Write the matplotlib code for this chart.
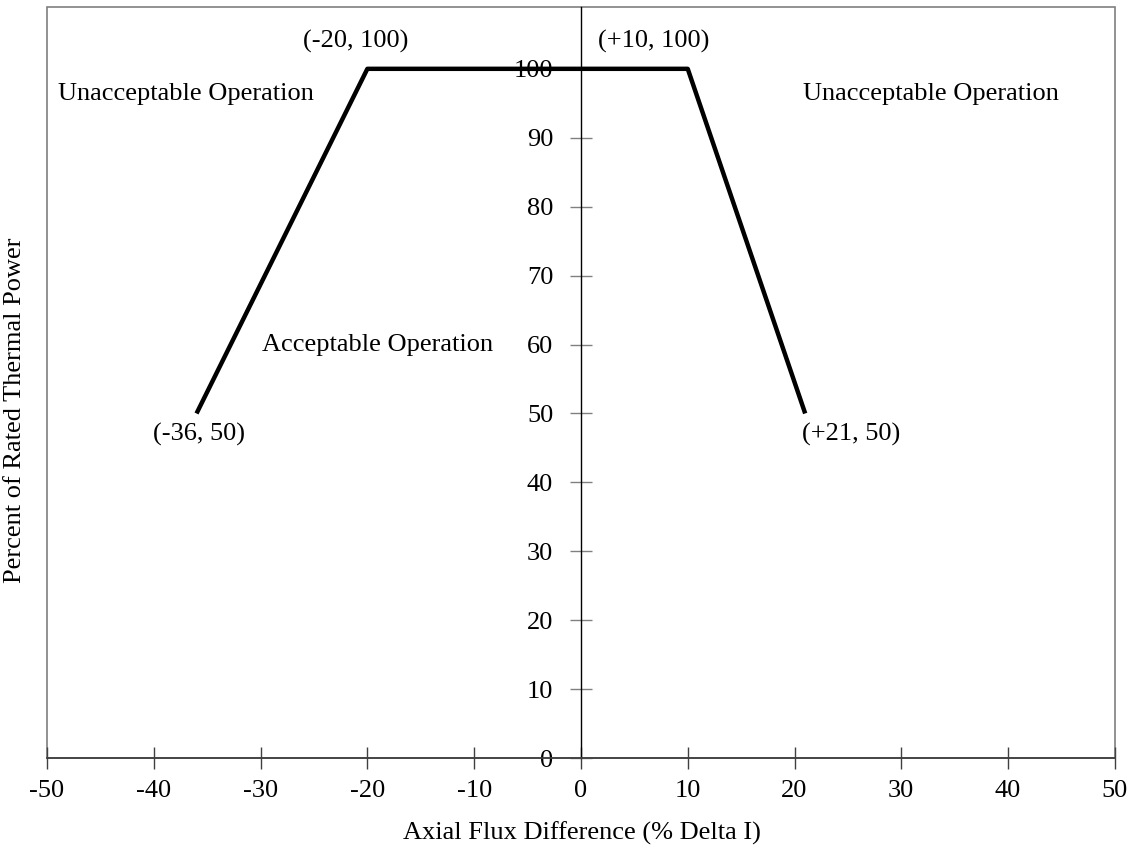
import matplotlib.pyplot as plt
from matplotlib.patches import Rectangle

plt.rcParams['font.family'] = ['Liberation Serif', 'DejaVu Serif']
plt.rcParams['axes.unicode_minus'] = False

# limit line points
flux = [-36, -20, 10, 21]
power = [50, 100, 100, 50]

x_ticks = [-50, -40, -30, -20, -10, 0, 10, 20, 30, 40, 50]
y_ticks = [0, 10, 20, 30, 40, 50, 60, 70, 80, 90, 100]

point_labels = ["(-36, 50)", "(-20, 100)", "(+10, 100)", "(+21, 50)"]
label_pos = [(-35.8, 47), (-21.1, 104), (6.8, 104), (25.3, 47)]

fs = 19

fig = plt.figure(figsize=(11.33, 8.48), dpi=100)
ax = fig.add_axes([0.0415, 0.106, 0.9425, 0.886])

ax.plot(flux, power, color='black', lw=3.2, solid_capstyle='butt', zorder=3)

ax.set_xlim(-50, 50)
ax.set_ylim(0, 109)

ax.spines['left'].set_position(('data', 0))
ax.spines['left'].set_color('black')
ax.spines['left'].set_linewidth(1.0)
ax.spines['bottom'].set_color('#404040')
ax.spines['bottom'].set_linewidth(1.3)
ax.spines['top'].set_visible(False)
ax.spines['right'].set_visible(False)
ax.add_patch(Rectangle((0, 0), 1, 1, transform=ax.transAxes, fill=False,
                       edgecolor='#7f7f7f', lw=1.2, clip_on=False, zorder=0))

ax.set_xticks(x_ticks)
ax.set_yticks(y_ticks)
ax.tick_params(axis='x', direction='inout', length=16, width=1, color='#404040',
               labelsize=fs, pad=8)
ax.tick_params(axis='y', direction='inout', length=16, width=1, color='#808080',
               labelsize=fs, pad=12)

for lab, (px, py) in zip(point_labels, label_pos):
    ax.text(px, py, lab, ha='center', va='center', fontsize=fs)

ax.text(-37.0, 96.4, "Unacceptable Operation", ha='center', va='center', fontsize=fs)
ax.text(32.8, 96.4, "Unacceptable Operation", ha='center', va='center', fontsize=fs)
ax.text(-19.0, 60, "Acceptable Operation", ha='center', va='center', fontsize=fs)

fig.text(582 / 1133, (848 - 840) / 848, "Axial Flux Difference (% Delta I)",
         ha='center', va='baseline', fontsize=fs)
fig.text(15 / 1133, 1 - 410 / 848, "Percent of Rated Thermal Power",
         ha='center', va='center', rotation=90, fontsize=fs)

fig.savefig('out.png', dpi=100)
